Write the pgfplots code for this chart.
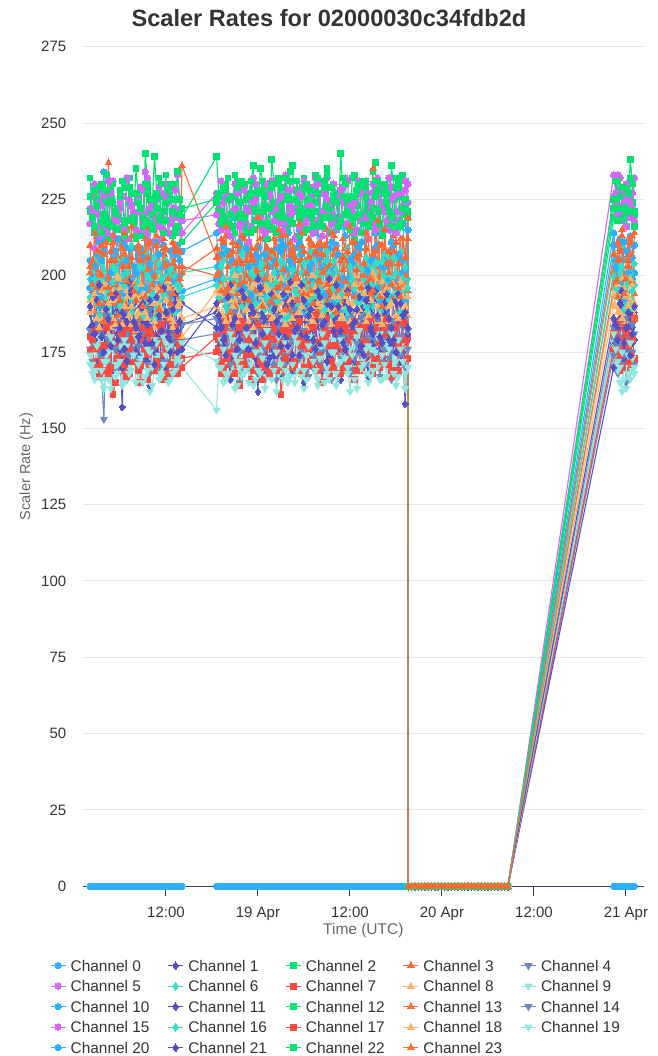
\documentclass[border=0pt]{standalone}
\usepackage{pgfplots}
\pgfplotsset{compat=1.18}
\usepackage{pgfplotstable}
\usepackage{fontspec}
\setmainfont{Liberation Sans}

% series palette
\definecolor{hcA}{HTML}{2CAFFE}
\definecolor{hcB}{HTML}{544FC5}
\definecolor{hcC}{HTML}{00E272}
\definecolor{hcD}{HTML}{FE6A35}
\definecolor{hcE}{HTML}{6B8ABC}
\definecolor{hcF}{HTML}{D568FB}
\definecolor{hcG}{HTML}{2EE0CA}
\definecolor{hcH}{HTML}{FA4B42}
\definecolor{hcI}{HTML}{FEB56A}
\definecolor{hcJ}{HTML}{91E8E1}
\definecolor{textc}{HTML}{333333}
\definecolor{labelc}{HTML}{666666}
\definecolor{gridc}{HTML}{E6E6E6}
\definecolor{axisc}{HTML}{3A4556}

% scaler rates (Hz) per channel; t = hours since 18 Apr 00:00 UTC
\pgfplotstableread{
t c0 c1 c2 c3 c4 c5 c6 c7 c8 c9 c10 c11 c12 c13 c14 c15 c16 c17 c18 c19 c21 c22 c23
2.1 205 183 232 210 176 222 199 180 192 171 196 188 221 201 182 217 193 175 188 174 190 226 203
2.4 198 179 221 195 172 226 202 176 188 168 199 181 219 205 178 221 197 179 192 171 184 219 197
2.7 194 176 214 188 169 230 205 171 185 166 203 179 228 192 187 209 199 182 194 169 181 216 214
3.0 207 186 229 202 178 220 194 172 194 175 194 186 225 196 184 216 191 176 186 177 192 223 208
3.3 211 190 225 204 181 213 191 167 197 178 190 172 214 208 175 224 187 170 183 180 197 229 191
3.6 193 174 216 210 168 228 204 183 186 166 205 175 230 201 173 223 199 172 195 169 180 214 200
3.9 234 172 219 196 153 226 207 186 189 163 208 184 224 185 190 220 202 177 197 172 175 220 207
4.2 212 181 233 193 180 215 189 169 197 172 192 190 218 192 187 214 193 183 189 174 189 228 211
4.5 198 185 228 237 174 218 195 174 181 175 199 193 217 199 179 231 190 168 191 166 186 212 196
4.8 201 170 224 205 171 231 201 178 183 163 201 179 226 208 180 227 186 170 193 180 177 216 194
5.1 207 169 216 191 183 231 203 161 195 170 186 177 230 211 184 213 198 185 186 178 193 224 213
5.4 196 188 219 198 176 219 197 165 192 171 208 184 221 197 176 218 202 178 184 167 194 221 205
5.7 190 181 222 206 171 221 188 178 200 168 212 189 219 194 173 218 205 173 199 171 179 215 187
6.0 204 176 227 212 169 224 192 180 198 177 197 173 228 190 185 222 190 184 196 172 183 226 192
6.3 215 157 212 199 178 216 200 169 187 181 194 170 226 203 188 226 192 181 184 164 188 231 209
6.6 190 183 218 191 182 213 206 173 189 165 210 187 217 207 179 215 197 171 190 179 176 213 214
6.9 201 188 229 185 166 232 194 183 193 167 205 185 215 189 181 212 201 167 195 177 172 218 198
7.2 209 171 232 204 174 229 199 168 185 170 188 178 224 200 174 225 203 176 187 168 198 229 203
7.5 196 175 218 213 180 219 210 172 184 174 191 194 223 206 176 223 188 179 190 169 195 227 216
7.8 199 185 220 197 179 221 191 182 194 176 203 191 219 193 189 217 192 181 193 174 185 217 195
8.1 209 183 235 194 172 227 197 176 198 165 201 176 212 197 185 215 196 184 182 180 183 213 192
8.4 195 177 226 209 170 226 203 171 187 168 196 174 227 209 177 221 198 169 188 171 180 224 210
8.7 188 170 213 208 185 214 185 165 190 172 209 182 229 186 170 229 203 171 197 173 190 222 205
9.0 206 189 216 193 183 218 196 178 196 174 206 185 213 194 182 228 187 183 194 165 191 219 190
9.3 213 186 240 201 175 234 202 181 186 177 196 173 218 212 183 220 191 176 188 167 178 230 193
9.6 192 172 230 215 171 232 207 166 184 169 190 177 229 202 175 214 200 174 186 176 184 227 206
9.9 199 164 221 189 168 222 196 170 194 162 204 190 225 195 189 211 199 182 192 175 192 217 211
10.2 211 181 222 199 176 216 190 180 197 164 201 189 220 191 186 223 194 179 191 170 178 215 197
10.5 206 180 239 215 179 217 206 177 183 169 193 178 216 200 177 225 186 169 185 179 171 225 200
10.8 198 175 227 206 169 225 201 171 191 173 211 180 226 210 179 219 189 172 196 178 193 222 213
11.1 192 187 217 196 170 229 192 184 199 174 207 186 232 188 185 216 204 178 193 166 187 219 189
11.4 203 184 219 194 181 220 195 182 186 167 195 172 218 196 184 212 199 184 189 168 182 230 195
11.7 210 173 226 207 182 215 199 166 188 180 189 171 221 209 172 227 194 174 187 171 196 214 212
12.0 194 170 233 209 172 230 205 168 193 178 204 186 224 203 176 226 193 176 192 174 188 218 204
12.3 197 182 214 192 167 224 187 175 196 165 202 188 227 193 186 214 200 186 198 176 180 228 199
12.6 208 186 217 196 178 217 193 177 188 166 193 179 230 189 188 218 202 171 186 177 175 225 191
12.9 203 168 230 211 176 220 204 180 185 171 198 180 213 204 180 222 189 168 183 168 189 221 194
13.2 196 178 225 203 170 228 200 173 197 172 207 191 219 208 181 222 188 183 195 169 194 214 210
13.5 189 176 220 198 172 233 195 168 191 176 210 175 234 190 178 219 197 181 190 173 182 216 208
13.8 205 172 221 208 177 222 197 180 186 175 200 177 225 197 177 215 196 177 191 172 185 220 199
14.1 208 184 219 236 179 214 201 173 180 170 195 191 222 203 184 218 193 170 186 178 176 211 201
18.6 214 188 239 206 181 227 203 175 195 156 199 183 225 200 186 220 197 180 190 172 191 224 209
18.9 201 177 226 198 175 222 196 179 188 172 203 186 221 206 180 217 193 176 194 170 187 227 201
19.2 200 172 221 192 170 231 195 168 187 170 207 176 219 212 178 215 203 172 196 179 183 217 195
19.5 210 185 219 207 168 229 205 170 193 165 195 177 229 195 186 224 199 182 187 176 179 218 211
19.8 208 181 230 213 177 218 208 182 199 166 192 190 228 194 182 226 190 186 185 168 174 229 216
20.1 196 174 232 194 181 217 192 183 186 174 208 189 217 203 175 215 188 173 197 168 193 225 196
20.4 193 166 216 199 184 225 191 171 183 175 204 173 213 207 171 213 199 175 192 181 197 220 188
20.7 205 189 220 211 173 226 201 168 195 170 190 175 226 198 183 221 202 181 190 179 184 216 208
21.0 219 185 233 187 172 230 200 178 192 163 189 186 226 190 188 222 185 168 200 174 186 214 204
21.3 192 176 228 199 179 220 198 177 190 164 202 182 219 210 178 227 195 171 185 172 176 229 194
21.6 204 175 224 216 165 216 196 164 201 172 211 179 220 205 175 217 202 183 187 170 179 231 197
21.9 213 183 216 204 170 230 207 172 184 177 196 191 231 192 187 213 190 185 193 167 195 220 213
22.2 197 189 218 194 179 229 209 176 188 168 196 192 230 198 183 228 194 171 194 177 193 219 212
22.5 200 171 225 192 184 217 193 181 197 169 209 176 222 205 174 222 200 174 189 181 183 214 200
22.8 211 170 227 203 171 221 193 183 185 177 203 175 216 211 179 211 191 179 189 165 176 226 192
23.1 195 187 231 209 176 225 201 166 188 173 193 188 214 199 182 216 196 180 196 171 190 231 207
23.4 190 183 236 189 186 232 204 169 197 164 191 184 223 187 190 224 200 174 183 180 188 215 205
23.7 207 178 218 201 169 230 195 178 191 166 204 173 227 209 179 225 191 187 187 175 178 221 195
24.0 206 162 220 210 168 219 190 177 190 171 209 171 218 202 174 219 187 184 198 169 199 228 219
24.3 191 184 235 196 182 221 204 174 184 175 198 185 220 194 185 219 203 172 194 168 196 217 212
24.6 216 178 231 197 177 227 201 166 193 176 194 188 227 195 181 215 204 170 191 173 181 221 190
24.9 212 169 223 213 173 214 191 183 196 163 207 179 229 204 176 214 189 179 190 178 186 226 199
25.2 199 186 215 208 173 215 197 180 184 167 206 178 212 209 185 230 193 177 196 182 171 217 203
25.5 203 182 217 197 178 227 208 170 187 171 192 190 216 191 190 226 197 168 199 172 173 222 206
25.8 208 174 238 193 182 231 206 173 200 174 190 191 229 191 172 221 189 186 186 166 194 230 208
26.1 194 176 230 206 171 231 197 179 194 177 205 174 224 212 177 218 201 183 186 169 189 215 193
26.4 193 190 223 214 166 222 192 182 188 162 201 174 219 204 187 214 198 169 193 175 185 214 196
26.7 209 188 221 191 186 219 193 176 189 168 196 187 232 196 183 224 192 175 193 180 181 230 215
27.0 212 168 229 200 178 217 205 161 191 178 208 183 224 197 179 226 202 178 199 171 177 223 213
27.3 197 173 226 214 168 225 204 169 199 174 210 180 219 202 174 215 199 182 188 166 194 219 202
27.6 202 179 217 190 171 233 194 175 186 169 193 189 215 213 184 218 186 173 184 178 190 232 189
27.9 214 181 219 199 177 216 190 182 185 165 189 192 225 190 188 228 187 176 195 176 177 226 196
28.2 187 184 234 211 185 220 203 184 196 173 205 172 231 188 176 223 199 181 192 167 198 218 207
28.5 199 169 236 205 183 231 206 173 192 173 203 174 217 208 179 221 202 170 186 171 191 217 209
28.8 209 171 222 196 169 228 190 170 182 165 197 185 221 206 189 212 195 172 197 180 182 225 199
29.1 190 186 224 193 172 222 197 186 188 169 198 186 228 199 184 213 194 183 198 178 183 231 192
29.4 215 187 219 205 180 216 207 179 198 176 211 177 227 194 173 227 191 185 188 174 174 213 217
29.7 208 178 217 210 179 229 201 168 196 177 207 181 222 205 176 226 190 177 190 167 197 220 214
30.0 195 165 232 191 174 231 198 167 189 163 188 193 214 208 182 216 204 170 195 169 192 229 194
30.3 201 185 229 198 169 217 195 178 183 166 191 189 230 194 189 218 205 181 193 174 180 215 201
30.6 205 182 225 212 167 223 193 183 194 171 202 180 225 193 186 222 188 176 186 177 187 221 206
30.9 215 172 221 207 184 226 208 172 194 175 204 176 219 211 180 223 192 171 187 180 189 228 195
31.2 192 176 214 198 183 214 205 172 185 179 199 170 218 210 177 229 197 183 200 172 179 216 191
31.5 196 183 233 195 174 232 193 185 190 168 196 191 224 197 173 215 200 187 196 169 176 221 208
31.8 218 189 230 189 175 230 199 178 199 166 207 186 232 199 191 218 201 169 191 164 195 227 210
32.1 206 177 218 211 171 219 200 170 186 176 209 178 216 207 186 227 195 174 192 173 193 217 198
32.4 203 169 221 207 170 221 189 165 190 174 195 179 216 186 175 213 192 179 187 181 184 219 201
32.7 193 190 227 201 181 227 204 179 197 165 194 184 231 192 178 220 189 182 185 178 185 229 210
33.0 196 185 235 215 184 232 208 181 183 168 204 191 223 203 183 225 205 186 196 170 172 233 197
33.3 209 171 222 192 176 222 191 167 189 172 202 173 221 204 184 214 201 177 198 166 199 219 195
33.6 211 173 218 194 166 217 196 170 197 177 190 173 229 197 172 220 187 172 184 175 190 214 214
33.9 202 184 230 207 170 230 205 182 193 179 191 187 226 213 177 224 196 170 189 175 182 225 213
34.2 200 180 227 202 178 226 202 176 192 164 210 187 215 209 188 215 200 177 199 168 197 224 188
34.5 194 176 219 196 185 216 198 175 184 167 207 180 218 195 190 218 192 184 193 171 190 216 199
34.8 189 166 240 190 173 219 191 184 186 172 197 176 228 192 180 228 194 168 190 179 182 218 205
35.1 217 183 226 212 172 224 192 170 198 174 199 192 229 202 175 229 206 176 186 177 178 232 206
35.4 213 187 224 209 181 232 206 169 195 175 186 190 220 205 176 217 189 182 193 173 176 230 198
35.7 199 170 216 203 178 231 209 184 191 170 189 175 224 208 181 217 188 172 195 168 195 221 194
36.0 198 172 216 197 168 215 197 179 188 162 205 181 226 196 187 223 203 175 185 176 189 215 216
36.3 206 188 232 191 169 221 196 173 187 176 204 186 217 191 186 222 199 181 191 174 184 219 211
36.6 207 183 233 213 176 224 192 166 200 178 194 172 212 211 173 214 196 185 197 166 185 226 193
36.9 192 178 223 209 183 227 203 181 195 163 210 179 228 206 178 215 193 169 188 180 189 228 202
37.2 191 175 219 188 185 231 209 182 184 169 209 188 230 189 184 227 191 171 189 182 193 220 207
37.5 211 185 218 199 174 218 190 169 188 172 193 190 220 197 187 227 202 183 197 170 177 214 196
37.8 217 188 228 204 171 220 194 173 193 173 199 175 217 204 178 219 199 178 194 171 174 231 200
38.1 197 173 229 214 171 231 206 178 192 168 202 177 231 209 174 219 190 175 185 176 192 226 214
38.4 201 167 222 195 179 227 203 177 189 165 191 192 224 198 190 212 188 183 187 177 196 216 212
38.7 205 182 221 193 180 222 197 174 197 175 197 188 218 194 183 224 197 186 192 167 183 220 199
39.0 194 179 234 235 169 217 190 168 196 176 206 178 219 207 174 230 202 170 201 169 181 222 195
39.3 214 176 237 206 175 215 201 183 186 171 209 181 226 203 179 217 204 173 199 175 195 231 208
39.6 210 185 217 199 183 232 204 185 185 170 196 186 231 193 186 216 193 181 190 180 187 228 218
39.9 191 189 222 197 167 228 194 170 194 166 192 175 221 210 189 228 189 178 187 181 180 217 193
40.2 188 171 229 210 172 222 198 171 198 166 203 174 214 210 179 224 205 174 184 174 178 213 190
40.5 203 172 230 209 181 221 207 180 190 177 205 187 229 196 176 221 200 183 194 171 191 227 215
40.8 205 182 223 193 177 216 206 179 191 178 188 189 227 190 183 218 190 186 196 167 194 224 204
41.1 198 184 217 200 173 232 199 176 185 169 199 179 216 208 182 215 192 171 190 176 186 221 201
41.4 219 168 236 206 166 229 193 167 186 171 211 177 220 205 175 225 200 169 191 181 183 219 197
41.7 210 179 229 213 179 218 193 185 199 174 193 192 225 193 185 226 206 180 197 168 179 216 208
42.0 196 186 218 191 182 221 201 183 194 164 198 191 229 197 188 214 194 179 187 172 175 232 211
42.3 194 187 221 195 171 227 205 169 192 167 207 176 231 204 178 218 195 177 186 179 194 229 196
42.6 222 174 226 208 174 227 208 172 189 177 205 172 216 212 180 221 188 176 198 176 191 217 193
42.9 217 175 233 204 183 222 200 179 188 172 201 185 220 199 187 223 199 185 193 172 187 222 212
43.2 202 158 231 197 170 231 195 178 196 168 192 185 222 200 186 228 203 184 190 163 188 225 206
43.55 224 179 221 212 176 224 199 180 187 173 215 181 219 195 182 230 196 173 193 170 183 220 219
43.6 0 0 0 0 0 0 0 0 0 0 0 0 0 0 0 0 0 0 0 0 0 0 0
44.03 0 0 0 0 0 0 0 0 0 0 0 0 0 0 0 0 0 0 0 0 0 0 0
44.47 0 0 0 0 0 0 0 0 0 0 0 0 0 0 0 0 0 0 0 0 0 0 0
44.9 0 0 0 0 0 0 0 0 0 0 0 0 0 0 0 0 0 0 0 0 0 0 0
45.33 0 0 0 0 0 0 0 0 0 0 0 0 0 0 0 0 0 0 0 0 0 0 0
45.77 0 0 0 0 0 0 0 0 0 0 0 0 0 0 0 0 0 0 0 0 0 0 0
46.2 0 0 0 0 0 0 0 0 0 0 0 0 0 0 0 0 0 0 0 0 0 0 0
46.63 0 0 0 0 0 0 0 0 0 0 0 0 0 0 0 0 0 0 0 0 0 0 0
47.07 0 0 0 0 0 0 0 0 0 0 0 0 0 0 0 0 0 0 0 0 0 0 0
47.5 0 0 0 0 0 0 0 0 0 0 0 0 0 0 0 0 0 0 0 0 0 0 0
47.93 0 0 0 0 0 0 0 0 0 0 0 0 0 0 0 0 0 0 0 0 0 0 0
48.37 0 0 0 0 0 0 0 0 0 0 0 0 0 0 0 0 0 0 0 0 0 0 0
48.8 0 0 0 0 0 0 0 0 0 0 0 0 0 0 0 0 0 0 0 0 0 0 0
49.23 0 0 0 0 0 0 0 0 0 0 0 0 0 0 0 0 0 0 0 0 0 0 0
49.67 0 0 0 0 0 0 0 0 0 0 0 0 0 0 0 0 0 0 0 0 0 0 0
50.1 0 0 0 0 0 0 0 0 0 0 0 0 0 0 0 0 0 0 0 0 0 0 0
50.53 0 0 0 0 0 0 0 0 0 0 0 0 0 0 0 0 0 0 0 0 0 0 0
50.97 0 0 0 0 0 0 0 0 0 0 0 0 0 0 0 0 0 0 0 0 0 0 0
51.4 0 0 0 0 0 0 0 0 0 0 0 0 0 0 0 0 0 0 0 0 0 0 0
51.83 0 0 0 0 0 0 0 0 0 0 0 0 0 0 0 0 0 0 0 0 0 0 0
52.27 0 0 0 0 0 0 0 0 0 0 0 0 0 0 0 0 0 0 0 0 0 0 0
52.7 0 0 0 0 0 0 0 0 0 0 0 0 0 0 0 0 0 0 0 0 0 0 0
53.13 0 0 0 0 0 0 0 0 0 0 0 0 0 0 0 0 0 0 0 0 0 0 0
53.57 0 0 0 0 0 0 0 0 0 0 0 0 0 0 0 0 0 0 0 0 0 0 0
54.0 0 0 0 0 0 0 0 0 0 0 0 0 0 0 0 0 0 0 0 0 0 0 0
54.43 0 0 0 0 0 0 0 0 0 0 0 0 0 0 0 0 0 0 0 0 0 0 0
54.87 0 0 0 0 0 0 0 0 0 0 0 0 0 0 0 0 0 0 0 0 0 0 0
55.3 0 0 0 0 0 0 0 0 0 0 0 0 0 0 0 0 0 0 0 0 0 0 0
55.73 0 0 0 0 0 0 0 0 0 0 0 0 0 0 0 0 0 0 0 0 0 0 0
56.17 0 0 0 0 0 0 0 0 0 0 0 0 0 0 0 0 0 0 0 0 0 0 0
56.6 0 0 0 0 0 0 0 0 0 0 0 0 0 0 0 0 0 0 0 0 0 0 0
70.4 210 178 222 201 174 233 205 181 194 178 214 170 219 196 183 226 200 176 190 181 186 225 207
70.67 203 181 231 196 177 227 199 176 190 171 205 178 225 199 179 223 196 181 193 176 184 222 198
70.94 198 185 226 211 168 233 196 172 188 169 202 183 231 205 177 220 193 185 197 172 179 218 193
71.21 212 174 221 205 170 232 203 169 196 165 197 186 218 208 185 218 201 174 188 170 191 226 209
71.48 205 171 218 190 180 223 209 176 199 162 195 190 222 213 171 227 203 170 186 175 195 229 215
71.75 196 186 227 199 182 221 194 179 187 175 211 173 229 194 174 225 189 183 196 166 178 219 194
72.02 192 182 229 206 165 230 190 184 185 174 208 176 216 189 186 216 197 181 193 163 183 221 199
72.29 207 177 223 212 168 226 206 172 193 168 201 183 221 203 180 220 199 177 190 174 188 227 205
72.56 213 175 238 198 177 219 201 169 192 166 199 187 227 207 175 224 189 174 199 178 174 232 211
72.83 199 183 230 195 175 223 192 180 189 173 206 178 224 198 184 227 195 179 197 169 181 221 213
73.1 201 188 220 214 171 232 197 173 187 170 210 179 221 194 181 218 204 186 191 168 190 216 186
}\rates

% channel 20 reads 0 Hz throughout; nan marks the gaps in its record
\pgfplotstableread[row sep=\\]{
t c20\\
2.1 0\\ 2.4 0\\ 2.7 0\\ 3.0 0\\ 3.3 0\\ 3.6 0\\ 3.9 0\\ 4.2 0\\ 4.5 0\\ 4.8 0\\
5.1 0\\ 5.4 0\\ 5.7 0\\ 6.0 0\\ 6.3 0\\ 6.6 0\\ 6.9 0\\ 7.2 0\\ 7.5 0\\ 7.8 0\\
8.1 0\\ 8.4 0\\ 8.7 0\\ 9.0 0\\ 9.3 0\\ 9.6 0\\ 9.9 0\\ 10.2 0\\ 10.5 0\\ 10.8 0\\
11.1 0\\ 11.4 0\\ 11.7 0\\ 12.0 0\\ 12.3 0\\ 12.6 0\\ 12.9 0\\ 13.2 0\\ 13.5 0\\ 13.8 0\\
14.1 0\\ 16.3 nan\\
18.6 0\\ 18.9 0\\ 19.2 0\\ 19.5 0\\ 19.8 0\\ 20.1 0\\ 20.4 0\\ 20.7 0\\ 21.0 0\\ 21.3 0\\
21.6 0\\ 21.9 0\\ 22.2 0\\ 22.5 0\\ 22.8 0\\ 23.1 0\\ 23.4 0\\ 23.7 0\\ 24.0 0\\ 24.3 0\\
24.6 0\\ 24.9 0\\ 25.2 0\\ 25.5 0\\ 25.8 0\\ 26.1 0\\ 26.4 0\\ 26.7 0\\ 27.0 0\\ 27.3 0\\
27.6 0\\ 27.9 0\\ 28.2 0\\ 28.5 0\\ 28.8 0\\ 29.1 0\\ 29.4 0\\ 29.7 0\\ 30.0 0\\ 30.3 0\\
30.6 0\\ 30.9 0\\ 31.2 0\\ 31.5 0\\ 31.8 0\\ 32.1 0\\ 32.4 0\\ 32.7 0\\ 33.0 0\\ 33.3 0\\
33.6 0\\ 33.9 0\\ 34.2 0\\ 34.5 0\\ 34.8 0\\ 35.1 0\\ 35.4 0\\ 35.7 0\\ 36.0 0\\ 36.3 0\\
36.6 0\\ 36.9 0\\ 37.2 0\\ 37.5 0\\ 37.8 0\\ 38.1 0\\ 38.4 0\\ 38.7 0\\ 39.0 0\\ 39.3 0\\
39.6 0\\ 39.9 0\\ 40.2 0\\ 40.5 0\\ 40.8 0\\ 41.1 0\\ 41.4 0\\ 41.7 0\\ 42.0 0\\ 42.3 0\\
42.6 0\\ 42.9 0\\ 43.2 0\\ 43.55 0\\ 63.5 nan\\
70.4 0\\ 70.67 0\\ 70.94 0\\ 71.21 0\\ 71.48 0\\ 71.75 0\\ 72.02 0\\ 72.29 0\\ 72.56 0\\ 72.83 0\\
73.1 0\\
}\zerochan

\pgfplotsset{
  ser/.style={color=#1, line width=1.1bp, mark options={solid, line width=0pt}},
  circ/.style={ser=#1, mark=*, mark size=3.2bp},
  diam/.style={ser=#1, mark=diamond*, mark size=3.9bp},
  sq/.style={ser=#1, mark=square*, mark size=2.9bp},
  tri/.style={ser=#1, mark=triangle*, mark size=3.9bp},
  trid/.style={ser=#1, mark=triangle*, mark size=3.7bp, mark options={rotate=180}},
}
\newcommand{\lent}[1]{\makebox[96.9bp][l]{#1}}

\begin{document}
\begin{tikzpicture}
\path[use as bounding box] (-82.7bp,-169.7bp) rectangle (575.3bp,886.3bp);
\begin{axis}[
  at={(0,0)}, anchor=south west,
  scale only axis, width=561.3bp, height=839.6bp,
  xmin=1.14, xmax=74.35, ymin=0, ymax=275,
  ytick={0,25,...,275},
  xtick={12,24,36,48,60,72},
  xticklabels={12:00,19 Apr,12:00,20 Apr,12:00,21 Apr},
  ymajorgrids, grid style={draw=gridc, line width=1bp},
  axis x line*=bottom, axis y line*=left,
  x axis line style={draw=axisc, line width=1.2bp, -},
  y axis line style={draw=none, -},
  xtick style={draw=textc, line width=1bp},
  ytick style={draw=none},
  tick align=outside, major tick length=10bp,
  /pgf/number format/assume math mode=true,
  ticklabel style={font=\fontsize{15bp}{18bp}\selectfont, text=textc},
  yticklabel style={anchor=east, inner sep=0pt, xshift=-6.3bp},
  xticklabel style={anchor=north, inner sep=0pt, yshift=-10.2bp},
  title={Scaler Rates for 02000030c34fdb2d},
  title style={at={(axis description cs:0.4388,1)}, anchor=base, yshift=14.7bp,
    font=\fontsize{23.6bp}{28bp}\selectfont\bfseries, text=textc, inner sep=0pt},
  xlabel={Time (UTC)},
  xlabel style={at={(axis description cs:0.5,0)}, anchor=base, yshift=-48bp,
    font=\fontsize{15.5bp}{18bp}\selectfont, text=labelc, inner sep=0pt},
  clip=false,
  unbounded coords=jump,
  legend columns=5,
  legend image code/.code={\draw[mark repeat=2, mark phase=2, #1]
    plot coordinates {(0bp,5.4bp) (7.5bp,5.4bp) (15bp,5.4bp)};},
  legend style={draw=none, fill=none, inner sep=0pt, outer sep=0pt,
    at={(axis description cs:-0.05826,-0.08349)}, anchor=north west,
    font=\fontsize{15.4bp}{18bp}\selectfont, text=textc,
    column sep=0pt, row sep=0pt,
    /tikz/every odd column/.append style={column sep=4.6bp},
    cells={anchor=base west},
    nodes={inner sep=0pt, text height=14.6bp, text depth=5.9bp, anchor=base west}},
]
\addplot[circ=hcA] table[x=t, y=c0] {\rates};
\addlegendentry{\lent{Channel 0}}
\addplot[diam=hcB] table[x=t, y=c1] {\rates};
\addlegendentry{\lent{Channel 1}}
\addplot[sq=hcC] table[x=t, y=c2] {\rates};
\addlegendentry{\lent{Channel 2}}
\addplot[tri=hcD] table[x=t, y=c3] {\rates};
\addlegendentry{\lent{Channel 3}}
\addplot[trid=hcE] table[x=t, y=c4] {\rates};
\addlegendentry{\lent{Channel 4}}
\addplot[circ=hcF] table[x=t, y=c5] {\rates};
\addlegendentry{\lent{Channel 5}}
\addplot[diam=hcG] table[x=t, y=c6] {\rates};
\addlegendentry{\lent{Channel 6}}
\addplot[sq=hcH] table[x=t, y=c7] {\rates};
\addlegendentry{\lent{Channel 7}}
\addplot[tri=hcI] table[x=t, y=c8] {\rates};
\addlegendentry{\lent{Channel 8}}
\addplot[trid=hcJ] table[x=t, y=c9] {\rates};
\addlegendentry{\lent{Channel 9}}
\addplot[circ=hcA] table[x=t, y=c10] {\rates};
\addlegendentry{\lent{Channel 10}}
\addplot[diam=hcB] table[x=t, y=c11] {\rates};
\addlegendentry{\lent{Channel 11}}
\addplot[sq=hcC] table[x=t, y=c12] {\rates};
\addlegendentry{\lent{Channel 12}}
\addplot[tri=hcD] table[x=t, y=c13] {\rates};
\addlegendentry{\lent{Channel 13}}
\addplot[trid=hcE] table[x=t, y=c14] {\rates};
\addlegendentry{\lent{Channel 14}}
\addplot[circ=hcF] table[x=t, y=c15] {\rates};
\addlegendentry{\lent{Channel 15}}
\addplot[diam=hcG] table[x=t, y=c16] {\rates};
\addlegendentry{\lent{Channel 16}}
\addplot[sq=hcH] table[x=t, y=c17] {\rates};
\addlegendentry{\lent{Channel 17}}
\addplot[tri=hcI] table[x=t, y=c18] {\rates};
\addlegendentry{\lent{Channel 18}}
\addplot[trid=hcJ] table[x=t, y=c19] {\rates};
\addlegendentry{\lent{Channel 19}}
\addplot[circ=hcA] table[x=t, y=c20] {\zerochan};
\addlegendentry{\lent{Channel 20}}
\addplot[diam=hcB] table[x=t, y=c21] {\rates};
\addlegendentry{\lent{Channel 21}}
\addplot[sq=hcC] table[x=t, y=c22] {\rates};
\addlegendentry{\lent{Channel 22}}
\addplot[tri=hcD] table[x=t, y=c23] {\rates};
\addlegendentry{\lent{Channel 23}}
\end{axis}
% y-axis title
\node[rotate=90, anchor=base, inner sep=0pt, text=labelc,
  font=\fontsize{14.5bp}{18bp}\selectfont] at (-52.5bp,419.8bp) {Scaler Rate (Hz)};
\end{tikzpicture}
\end{document}
